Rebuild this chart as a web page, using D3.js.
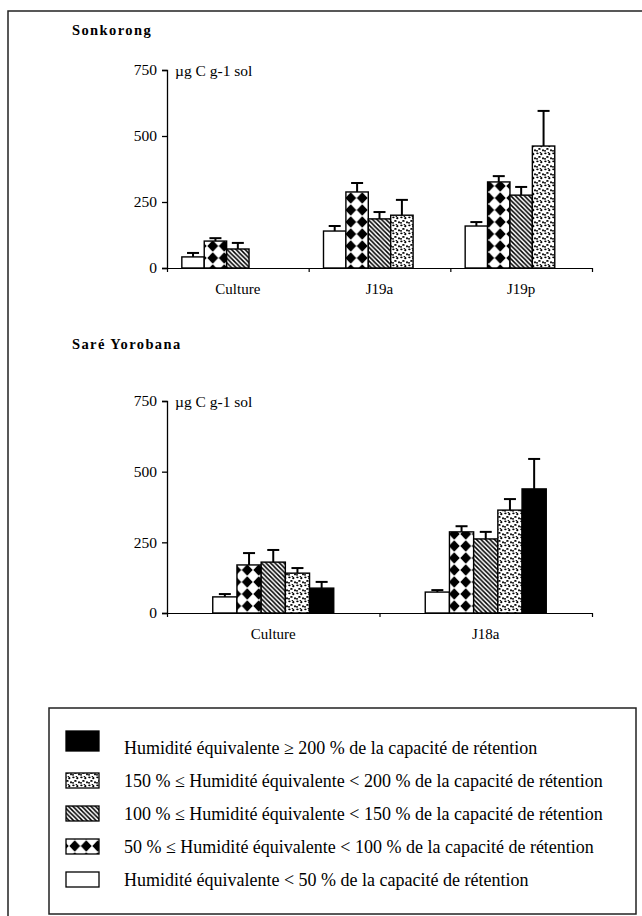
<!DOCTYPE html>
<html>
<head>
<meta charset="utf-8">
<script src="https://cdn.jsdelivr.net/npm/d3@7"></script>
<style>
  body { margin: 0; background: #fff; }
  svg { display: block; }
  svg text { font-family: serif; }
</style>
</head>
<body>
<div id="chart"></div>
<script>
// moisture classes, in bar order (left to right inside a group)
const series = ['lt50', 'p50', 'p100', 'p150', 'ge200'];

// Sonkorong panel
const sonkorongGroups = ['Culture', 'J19a', 'J19p'];
const sonkorongMeans = [
  [42, 102, 72, null, null],
  [140, 288, 186, 200, null],
  [159, 326, 276, 462, null]
];
const sonkorongErrors = [
  [15, 11, 23, null, null],
  [19, 34, 26, 58, null],
  [15, 22, 31, 133, null]
];

// Saré Yorobana panel
const sareGroups = ['Culture', 'J18a'];
const sareMeans = [
  [57, 170, 180, 141, 88],
  [74, 287, 262, 364, 439]
];
const sareErrors = [
  [10, 42, 43, 18, 22],
  [7, 20, 25, 39, 106]
];

const yTicks = [0, 250, 500, 750];
const unitLabel = 'µg C g-1 sol';

// legend, top to bottom
const legendKeys = ['ge200', 'p150', 'p100', 'p50', 'lt50'];
const legendLabels = [
  'Humidité équivalente ≥ 200 % de la capacité de rétention',
  '150 % ≤ Humidité équivalente < 200 % de la capacité de rétention',
  '100 % ≤ Humidité équivalente < 150 % de la capacité de rétention',
  '50 % ≤ Humidité équivalente < 100 % de la capacité de rétention',
  'Humidité équivalente < 50 % de la capacité de rétention'
];

const W = 642, H = 916;

const svg = d3.select('#chart').append('svg')
  .attr('width', W)
  .attr('height', H);

svg.append('rect').attr('width', W).attr('height', H).attr('fill', '#fff');

// fill patterns
const defs = svg.append('defs');

const checker = defs.append('pattern')
  .attr('id', 'pat-checker')
  .attr('patternUnits', 'userSpaceOnUse')
  .attr('width', 11.5).attr('height', 12);
checker.append('rect').attr('width', 11.5).attr('height', 12).attr('fill', '#fff');
checker.append('path')
  .attr('d', 'M5.75,0.3 L11.2,6 L5.75,11.7 L0.3,6 Z')
  .attr('fill', '#000');

const hatch = defs.append('pattern')
  .attr('id', 'pat-hatch')
  .attr('patternUnits', 'userSpaceOnUse')
  .attr('width', 4.5).attr('height', 4.5);
hatch.append('rect').attr('width', 4.5).attr('height', 4.5).attr('fill', '#fff');
hatch.append('path')
  .attr('d', 'M0,0 L4.5,4.5 M-1,3.5 L1,5.5 M3.5,-1 L5.5,1')
  .attr('stroke', '#000')
  .attr('stroke-width', 1.5);

const stipple = defs.append('pattern')
  .attr('id', 'pat-stipple')
  .attr('patternUnits', 'userSpaceOnUse')
  .attr('width', 8).attr('height', 8);
stipple.append('rect').attr('width', 8).attr('height', 8).attr('fill', '#fff');
[[1.4, 1.3, 1.2, 0.9], [5.3, 2.2, 1.1, 1.1], [3.4, 4.9, 1.3, 0.9],
 [7.0, 6.3, 1.0, 1.1], [1.0, 6.8, 1.0, 0.9], [4.4, 0.2, 0.9, 0.7]].forEach(d => {
  stipple.append('ellipse')
    .attr('cx', d[0]).attr('cy', d[1]).attr('rx', d[2]).attr('ry', d[3])
    .attr('fill', '#000');
});

const fills = {
  lt50: '#fff',
  p50: 'url(#pat-checker)',
  p100: 'url(#pat-hatch)',
  p150: 'url(#pat-stipple)',
  ge200: '#000'
};

// outer frame (only top and left fall inside the page)
svg.append('rect')
  .attr('x', 8).attr('y', 11)
  .attr('width', W + 10).attr('height', H + 10)
  .attr('fill', 'none')
  .attr('stroke', '#222')
  .attr('stroke-width', 1.5);

function drawPanel(opt) {
  const { title, titleY, groups, means, errors, yTop, yBottom, barW } = opt;
  const x0 = 167, x1 = 592;

  const y = d3.scaleLinear().domain([0, 750]).range([yBottom, yTop]);
  const x = d3.scaleBand().domain(groups).range([x0, x1]);
  const gw = x.bandwidth();
  const xs = d3.scaleBand().domain(series)
    .range([gw / 2 - 2.5 * barW, gw / 2 + 2.5 * barW]);

  svg.append('text')
    .attr('x', 72).attr('y', titleY)
    .attr('font-weight', 'bold')
    .attr('font-size', 14.5)
    .attr('letter-spacing', 1.4)
    .text(title);

  // y axis
  const yAxis = svg.append('g')
    .attr('transform', `translate(${x0},0)`)
    .call(d3.axisLeft(y).tickValues(yTicks).tickSize(5).tickSizeOuter(5).tickPadding(5));
  yAxis.attr('font-family', null);
  yAxis.selectAll('text')
    .attr('font-size', 15.5)
    .attr('fill', '#000');
  yAxis.selectAll('path, line').attr('stroke', '#000').attr('stroke-width', 1.3);

  svg.append('text')
    .attr('x', x0 + 8).attr('y', y(750) + 6)
    .attr('font-size', 15.5)
    .text(unitLabel);

  // x axis: ticks at group boundaries
  const xb = d3.scaleLinear().domain([0, groups.length]).range([x0, x1]);
  const xAxis = svg.append('g')
    .attr('transform', `translate(0,${yBottom})`)
    .call(d3.axisBottom(xb).ticks(groups.length).tickSize(4).tickSizeOuter(0).tickFormat(''));
  xAxis.selectAll('path, line').attr('stroke', '#000').attr('stroke-width', 1.2);

  svg.selectAll(null)
    .data(groups)
    .enter().append('text')
    .attr('x', d => x(d) + gw / 2)
    .attr('y', yBottom + 26)
    .attr('text-anchor', 'middle')
    .attr('font-size', 15)
    .text(d => d);

  // bars
  const rows = [];
  groups.forEach((g, gi) => {
    series.forEach((s, si) => {
      if (means[gi][si] != null) rows.push({ g, s, v: means[gi][si], e: errors[gi][si] });
    });
  });

  const bars = svg.append('g');
  bars.selectAll('rect')
    .data(rows)
    .enter().append('rect')
    .attr('x', d => x(d.g) + xs(d.s))
    .attr('y', d => y(d.v))
    .attr('width', xs.bandwidth())
    .attr('height', d => y(0) - y(d.v))
    .attr('fill', d => fills[d.s])
    .attr('stroke', '#000')
    .attr('stroke-width', 1.4);

  const err = svg.append('g').attr('stroke', '#000').attr('stroke-width', 2);
  err.selectAll('.stem')
    .data(rows)
    .enter().append('line')
    .attr('x1', d => x(d.g) + xs(d.s) + xs.bandwidth() / 2)
    .attr('x2', d => x(d.g) + xs(d.s) + xs.bandwidth() / 2)
    .attr('y1', d => y(d.v))
    .attr('y2', d => y(d.v + d.e));
  err.selectAll('.cap')
    .data(rows)
    .enter().append('line')
    .attr('x1', d => x(d.g) + xs(d.s) + xs.bandwidth() / 2 - 6)
    .attr('x2', d => x(d.g) + xs(d.s) + xs.bandwidth() / 2 + 6)
    .attr('y1', d => y(d.v + d.e))
    .attr('y2', d => y(d.v + d.e));
}

drawPanel({
  title: 'Sonkorong', titleY: 35,
  groups: sonkorongGroups, means: sonkorongMeans, errors: sonkorongErrors,
  yTop: 70, yBottom: 268, barW: 22.4
});

drawPanel({
  title: 'Saré  Yorobana', titleY: 349,
  groups: sareGroups, means: sareMeans, errors: sareErrors,
  yTop: 401, yBottom: 613, barW: 24.2
});

// legend
svg.append('rect')
  .attr('x', 49).attr('y', 708)
  .attr('width', 587).attr('height', 206)
  .attr('fill', 'none')
  .attr('stroke', '#222')
  .attr('stroke-width', 1.5);

const legend = svg.append('g');
const rowY = i => 754 + i * 33;

legend.selectAll('rect')
  .data(legendKeys)
  .enter().append('rect')
  .attr('x', 66)
  .attr('y', (d, i) => i === 0 ? rowY(i) - 23 : rowY(i) - 14)
  .attr('width', 33)
  .attr('height', (d, i) => i === 0 ? 20 : 15)
  .attr('fill', d => fills[d])
  .attr('stroke', '#000')
  .attr('stroke-width', 1.3);

legend.selectAll('text')
  .data(legendLabels)
  .enter().append('text')
  .attr('x', 124)
  .attr('y', (d, i) => rowY(i))
  .attr('font-size', 18)
  .text(d => d);
</script>
</body>
</html>
